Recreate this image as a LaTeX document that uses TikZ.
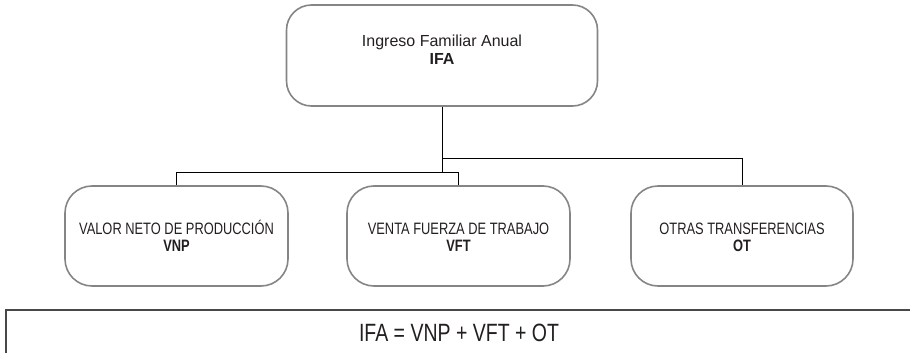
\documentclass[tikz,border=0pt]{standalone}
\usepackage{fontspec}
\setmainfont{Liberation Sans}
\newfontfamily\condf{Liberation Sans}[FakeStretch=0.78]
\newfontfamily\condg{Liberation Sans}[FakeStretch=0.78]
\definecolor{boxgray}{HTML}{858585}
\definecolor{framegray}{HTML}{484848}
\definecolor{txt}{HTML}{231F20}
\begin{document}
\begin{tikzpicture}[x=1pt,y=-1pt,
  box/.style={draw=boxgray,line width=1.6pt,rounded corners=27pt,minimum height=100pt,inner sep=0pt},
  conn/.style={draw=black,line width=0.9pt},
  toplbl/.style={anchor=base,inner sep=0pt,text=txt,font=\fontsize{16}{18}\selectfont},
  lbl/.style={anchor=base,inner sep=0pt,text=txt,font=\condf\fontsize{16.5}{18}\selectfont},
  blbl/.style={lbl,font=\condf\bfseries\fontsize{16.5}{18}\selectfont},
  frame/.style={draw=framegray,line width=1.5pt,inner sep=0pt,text=txt,font=\condg\fontsize{25}{28}\selectfont}]
\useasboundingbox (0,0) rectangle (910,353);
% boxes
\node[box,minimum width=311pt,minimum height=101pt,rounded corners=25pt] (ifa) at (442,55.5) {};
\node[box,minimum width=223pt] (vnp) at (176.5,236) {};
\node[box,minimum width=223pt] (vft) at (458.5,236) {};
\node[box,minimum width=222pt] (ot) at (742,236) {};
% texts
\node[toplbl] (ifa1) at (442,46.7) {Ingreso Familiar Anual};
\node[toplbl,font=\bfseries\fontsize{16}{18}\selectfont] (ifa2) at (442,65) {IFA};
\node[lbl] (vnp1) at (176.5,234) {VALOR NETO DE PRODUCCIÓN};
\node[blbl] (vnp2) at (176.5,251) {VNP};
\node[lbl] (vft1) at (458.5,234) {VENTA FUERZA DE TRABAJO};
\node[blbl] (vft2) at (458.5,251) {VFT};
\node[lbl] (ot1) at (742,234) {OTRAS TRANSFERENCIAS};
\node[blbl] (ot2) at (742,251) {OT};
% formula frame
\node[frame,minimum width=906pt,minimum height=46pt] (formula) at (459,333) {IFA = VNP + VFT + OT};
% connectors
\coordinate (j1) at (442,158);
\coordinate (j2) at (442,172);
\draw[conn] (ifa.south) -- (j2);
\draw[conn] (j2) -| (vnp.north);
\draw[conn] (j2) -| (vft.north);
\draw[conn] (j1) -| (ot.north);
\end{tikzpicture}
\end{document}
